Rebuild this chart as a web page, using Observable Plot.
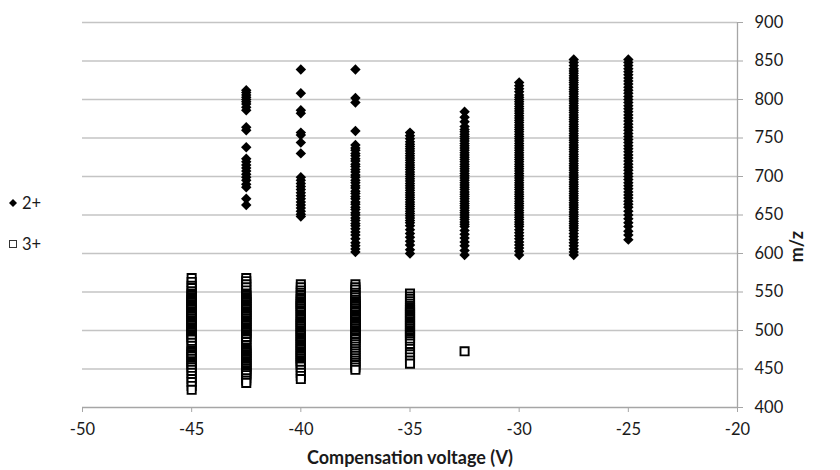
<!DOCTYPE html>
<html><head><meta charset="utf-8">
<script src="https://cdn.jsdelivr.net/npm/d3@7"></script>
<script src="https://cdn.jsdelivr.net/npm/@observablehq/plot@0.6"></script>
<style>
body{margin:0;background:#fff;font-family:Lato,"Open Sans",sans-serif;}
#wrap{position:relative;width:840px;height:470px;}
.lg{position:absolute;left:8px;height:20px;line-height:20px;font-size:16.5px;color:#1a1a1a;display:flex;align-items:center;}
.lg svg{margin-right:4px;}
g[aria-label="text"] text{font-weight:bold;font-size:18px;}
</style></head><body>
<div id="wrap">
<div class="lg" style="top:193px"><svg width="10" height="10"><path d="M5,1L9,5L5,9L1,5Z" fill="#000"/></svg>2+</div>
<div class="lg" style="top:234px"><svg width="10" height="10"><rect x="1.5" y="1.5" width="7" height="7" fill="#fff" stroke="#333" stroke-width="1"/></svg>3+</div>
</div>
<script>
// X ticks / Y ticks
const xTicks = [-50, -45, -40, -35, -30, -25, -20];
const yTicks = [400, 450, 500, 550, 600, 650, 700, 750, 800, 850, 900];
const xLabel = "Compensation voltage (V)";
const yLabel = "m/z";

// 2+ series: m/z values per compensation voltage
const cv2 = [-42.5, -40, -37.5, -35, -32.5, -30, -27.5, -25];
const mz2_m42_5 = [812, 809, 806, 803, 800, 797, 794, 790, 786, 764, 760, 738, 723, 719, 715, 711, 707, 703, 699, 695, 690, 686, 671, 663];
const mz2_m40 = [839, 808, 786, 782, 757, 754, 744, 730, 699, 695, 691, 687, 683, 679, 675, 671, 667, 663, 659, 655, 651, 648];
const mz2_m37_5 = [839, 802, 796, 759, 741, 737, 734, 730, 727, 723, 720, 716, 713, 709, 706, 702, 699, 695, 692, 688, 685, 681, 678, 674, 671, 667, 664, 660, 657, 653, 650, 646, 643, 639, 636, 632, 628, 624, 619, 614, 610, 606, 602];
const mz2_m35 = [757, 753, 749, 745, 742, 739, 736, 733, 730, 727, 724, 721, 718, 715, 712, 709, 706, 703, 700, 697, 694, 691, 688, 685, 682, 679, 676, 673, 670, 667, 664, 661, 658, 655, 652, 649, 646, 643, 640, 636, 631, 626, 621, 616, 611, 605, 600];
const mz2_m32_5 = [784, 777, 771, 765, 761, 758, 755, 752, 749, 746, 743, 740, 737, 734, 731, 728, 725, 722, 719, 716, 713, 710, 707, 704, 701, 698, 695, 692, 689, 686, 683, 680, 677, 674, 671, 668, 665, 662, 659, 656, 653, 650, 647, 644, 641, 638, 635, 630, 625, 620, 615, 610, 604, 598];
const mz2_m30 = [822, 818, 814, 810, 806, 803, 800, 797, 794, 791, 788, 785, 782, 779, 776, 773, 770, 767, 764, 761, 758, 755, 752, 749, 746, 743, 740, 737, 734, 731, 728, 725, 722, 719, 716, 713, 710, 707, 704, 701, 698, 695, 692, 689, 686, 683, 680, 677, 674, 671, 668, 665, 662, 659, 656, 653, 650, 647, 644, 641, 638, 635, 631, 627, 623, 619, 615, 611, 607, 603, 598];
const mz2_m27_5 = [852, 848, 844, 840, 837, 834, 831, 828, 825, 822, 819, 816, 813, 810, 807, 804, 801, 798, 795, 792, 789, 786, 783, 780, 777, 774, 771, 768, 765, 762, 759, 756, 753, 750, 747, 744, 741, 738, 735, 732, 729, 726, 723, 720, 717, 714, 711, 708, 705, 702, 699, 696, 693, 690, 687, 684, 681, 678, 675, 672, 669, 666, 663, 660, 657, 654, 651, 648, 645, 642, 639, 636, 633, 630, 626, 622, 618, 614, 610, 606, 602, 598];
const mz2_m25 = [852, 848, 844, 840, 836, 832, 828, 824, 820, 816, 812, 808, 804, 800, 796, 792, 788, 784, 780, 776, 772, 768, 764, 760, 756, 752, 748, 744, 740, 736, 732, 728, 724, 720, 716, 712, 708, 704, 700, 696, 692, 688, 684, 680, 676, 672, 668, 664, 660, 655, 650, 645, 640, 635, 629, 624, 618];
const mz2 = [mz2_m42_5, mz2_m40, mz2_m37_5, mz2_m35, mz2_m32_5, mz2_m30, mz2_m27_5, mz2_m25];

// 3+ series
const cv3 = [-45, -42.5, -40, -37.5, -35, -32.5];
const mz3_m45 = [568, 563, 558, 555, 551, 548, 546, 545, 543, 542, 540, 539, 537, 536, 534, 533, 531, 530, 528, 527, 525, 524, 522, 521, 519, 518, 516, 515, 513, 512, 510, 509, 507, 506, 504, 503, 501, 500, 498, 497, 495, 494, 492, 491, 489, 488, 484, 480, 476, 474, 472, 471, 469, 468, 466, 463, 460, 459, 457, 456, 454, 452, 449, 445, 441, 437, 433, 428, 423];
const mz3_m42_5 = [568, 564, 560, 556, 552, 548, 546, 545, 543, 542, 540, 539, 537, 536, 534, 533, 531, 530, 528, 527, 525, 524, 522, 521, 519, 518, 516, 515, 513, 512, 510, 509, 507, 506, 504, 503, 501, 500, 498, 497, 495, 494, 492, 491, 489, 488, 485, 481, 478, 477, 475, 474, 472, 471, 469, 468, 466, 465, 463, 462, 460, 459, 457, 456, 454, 453, 451, 450, 448, 447, 445, 444, 442, 438, 435, 432];
const mz3_m40 = [560, 556, 552, 549, 546, 543, 541, 540, 538, 537, 535, 534, 532, 531, 529, 528, 526, 525, 523, 520, 518, 517, 515, 514, 512, 511, 509, 508, 506, 505, 503, 502, 500, 499, 497, 496, 494, 493, 491, 490, 488, 487, 485, 484, 482, 481, 479, 478, 476, 475, 473, 472, 470, 469, 467, 466, 464, 463, 461, 460, 458, 457, 455, 453, 449, 445, 441, 437];
const mz3_m37_5 = [560, 556, 553, 549, 546, 543, 540, 538, 537, 535, 534, 532, 531, 529, 528, 526, 525, 523, 520, 518, 517, 515, 514, 512, 511, 509, 508, 506, 505, 503, 502, 500, 499, 497, 496, 494, 493, 491, 490, 488, 485, 482, 479, 476, 473, 470, 467, 464, 461, 458, 455, 452, 449];
const mz3_m35 = [548, 544, 541, 538, 535, 532, 530, 529, 527, 526, 524, 523, 521, 520, 518, 517, 515, 514, 512, 511, 509, 508, 506, 505, 503, 502, 500, 499, 497, 496, 494, 493, 491, 490, 488, 486, 483, 479, 476, 472, 469, 465, 461, 457];
const mz3_m32_5 = [473];
const mz3 = [mz3_m45, mz3_m42_5, mz3_m40, mz3_m37_5, mz3_m35, mz3_m32_5];

const data2 = cv2.flatMap((c, i) => mz2[i].map(m => ({cv: c, mz: m})));
const data3 = cv3.flatMap((c, i) => mz3[i].map(m => ({cv: c, mz: m})));

const axisGray = "#a6a6a6";
const chart = Plot.plot({
  width: 840,
  height: 470,
  marginLeft: 82,
  marginRight: 103,
  marginTop: 22,
  marginBottom: 63,
  style: {fontFamily: "Lato, 'Open Sans', sans-serif", fontSize: "16.5px", color: "#1a1a1a", background: "#fff"},
  x: {domain: [-50, -20]},
  y: {domain: [400, 900]},
  marks: [
    Plot.gridY(yTicks.filter(t => t > 400), {stroke: "#c4c4c4", strokeOpacity: 1, strokeWidth: 1.3}),
    Plot.ruleY([400], {stroke: axisGray, strokeWidth: 1.3}),
    Plot.ruleX([-20], {stroke: axisGray, strokeWidth: 1.3}),
    Plot.axisX(xTicks, {tickSize: 5, tickPadding: 11, stroke: axisGray, fill: "#1a1a1a", label: null, tickFormat: d => String(d)}),
    Plot.axisY(yTicks, {anchor: "right", tickSize: 5, tickPadding: 12, stroke: axisGray, fill: "#1a1a1a", label: null, tickFormat: d => String(d)}),
    Plot.dot(data3, {x: "cv", y: "mz", symbol: "square", r: 4.6, fill: "#fff", stroke: "#000", strokeWidth: 1.9}),
    Plot.dot(data2, {x: "cv", y: "mz", symbol: "diamond2", r: 4.7, fill: "#000", stroke: "none"}),
    Plot.text([xLabel], {frameAnchor: "bottom", text: d => d, dy: 51, lineAnchor: "middle", fill: "#1a1a1a"}),
    Plot.text([yLabel], {frameAnchor: "right", text: d => d, dx: 60, dy: 16, rotate: -90, lineAnchor: "middle", fill: "#1a1a1a"})
  ]
});
document.getElementById("wrap").appendChild(chart);
</script>
</body></html>
